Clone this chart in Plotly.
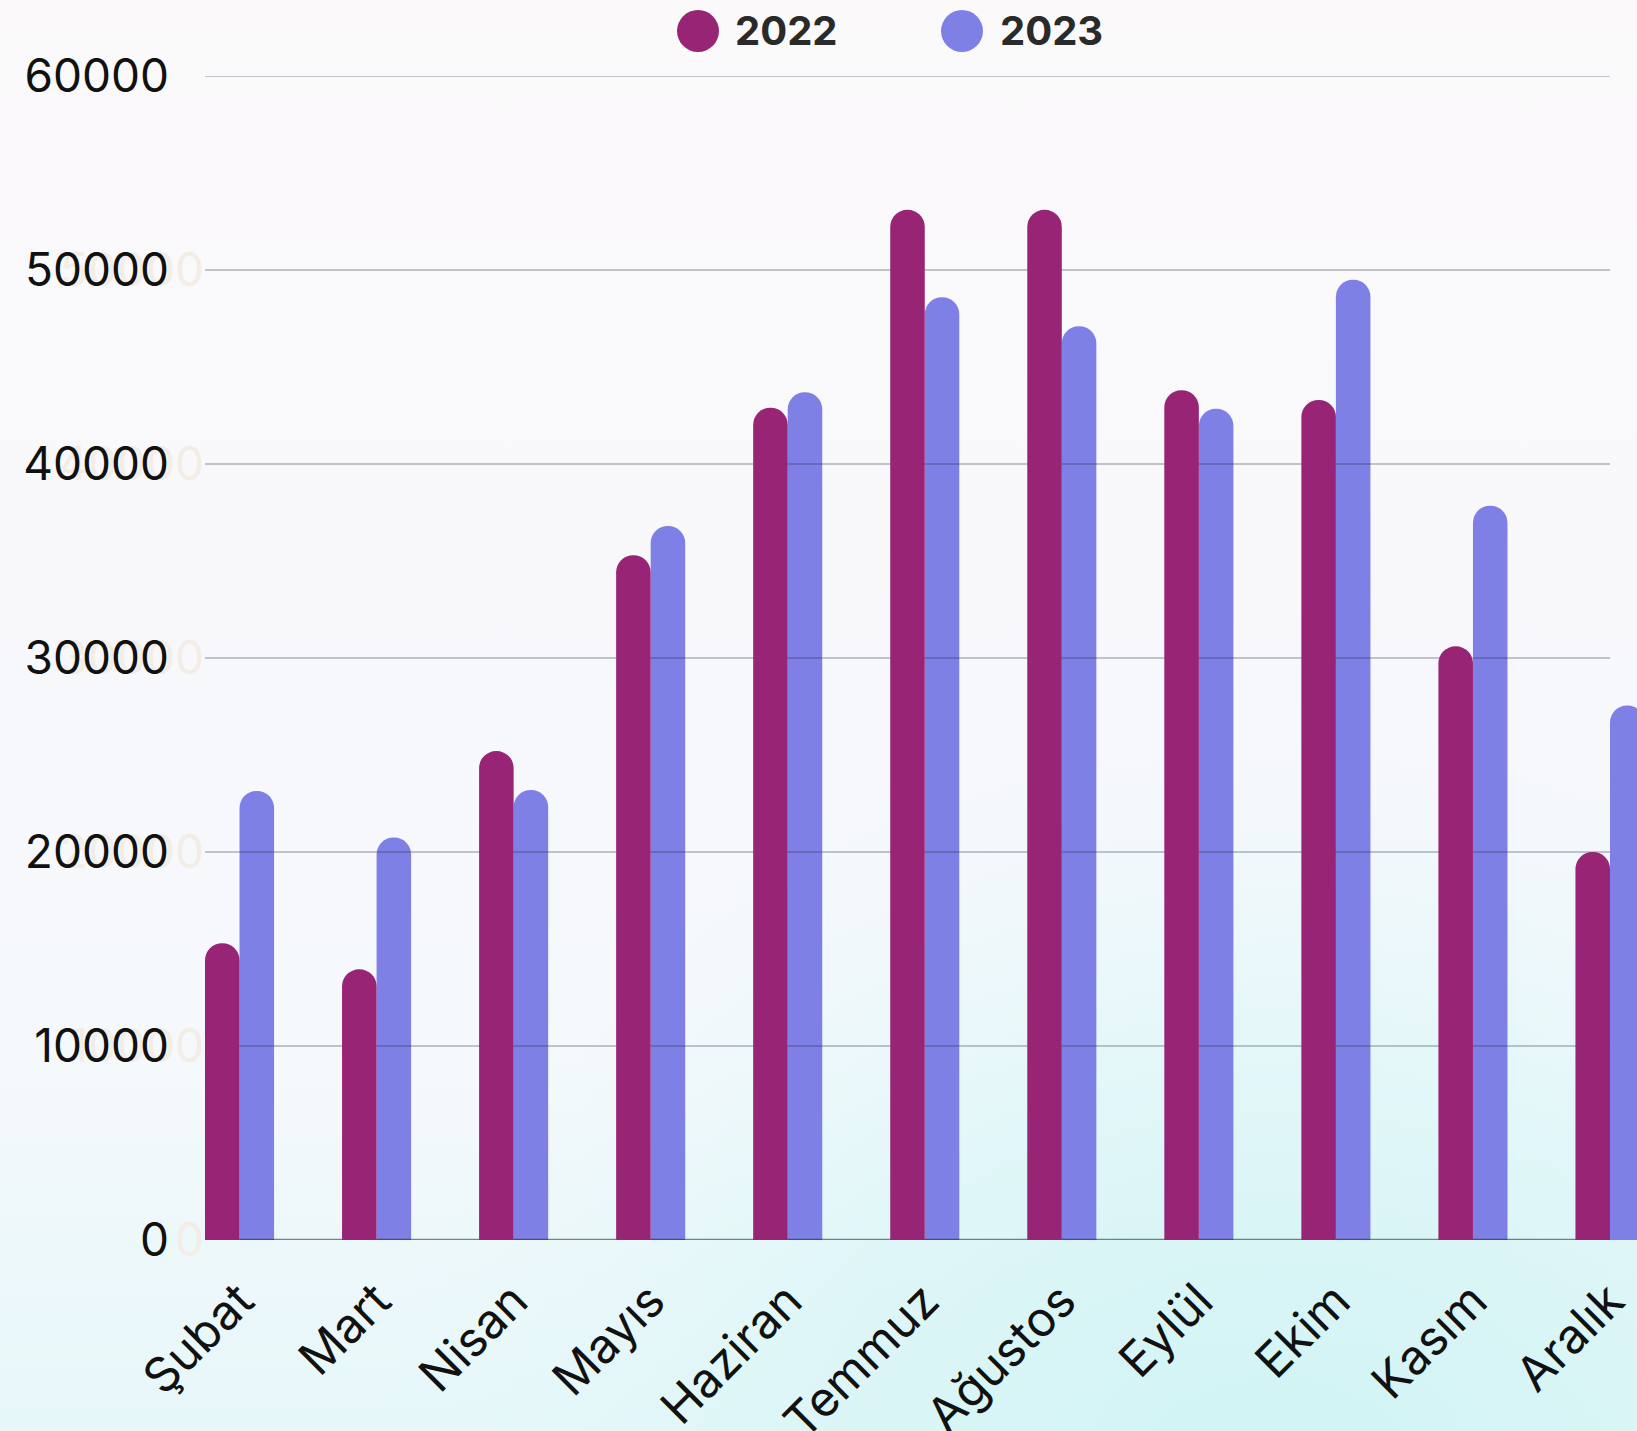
import base64
import plotly.graph_objects as go

# ---------------- data ----------------
months = ["Şubat", "Mart", "Nisan", "Mayıs", "Haziran", "Temmuz",
          "Ağustos", "Eylül", "Ekim", "Kasım", "Aralık"]
values_2022 = [15300, 13950, 25200, 35300, 42900, 53100, 53100, 43800, 43300, 30600, 20000]
values_2023 = [23150, 20750, 23200, 36800, 43700, 48600, 47100, 42850, 49500, 37850, 27550]
series_names = ["2022", "2023"]
y_ticks = [0, 10000, 20000, 30000, 40000, 50000, 60000]

# ---------------- styling ----------------
C2022 = "#982475"
C2023 = "#7f80e6"
W, H = 1637, 1431
ML, MR, MT, MB = 205, 0, 76, 191
BAR_W = 0.252
X_RANGE = [-BAR_W, 10 + 27 / 137.0]
Y_RANGE = [0, 60000]
FONT = "Inter"

xpos = list(range(len(months)))

fig = go.Figure()

# background gradient (svg image)
svg = f"""<svg xmlns='http://www.w3.org/2000/svg' width='{W}' height='{H}' viewBox='0 0 {W} {H}' preserveAspectRatio='none'>
<defs>
<linearGradient id='g' x1='0' y1='0' x2='0' y2='1'>
<stop offset='0' stop-color='#fbf9fa'/>
<stop offset='0.45' stop-color='#f8f8fc'/>
<stop offset='0.74' stop-color='#f5f9fc'/>
<stop offset='1' stop-color='#e6f7f9'/>
</linearGradient>
<radialGradient id='r' cx='0.78' cy='1.05' r='0.55'>
<stop offset='0' stop-color='#cdf3f4' stop-opacity='0.95'/>
<stop offset='0.55' stop-color='#d6f5f6' stop-opacity='0.6'/>
<stop offset='1' stop-color='#e2f7f8' stop-opacity='0'/>
</radialGradient>
</defs>
<rect width='{W}' height='{H}' fill='url(#g)'/>
<rect width='{W}' height='{H}' fill='url(#r)'/>
</svg>"""
svg_uri = "data:image/svg+xml;base64," + base64.b64encode(svg.encode("utf-8")).decode("ascii")

pw = W - ML - MR
ph = H - MT - MB

# 2023 bars (main subplot, under the gridlines)
fig.add_trace(go.Bar(
    x=xpos, y=values_2023, name=series_names[1],
    offset=0, width=BAR_W,
    marker=dict(color=C2023, cornerradius="50%", line=dict(width=0)),
    showlegend=False, xaxis="x", yaxis="y",
))

# gridlines (main subplot, drawn above 2023 bars)
gx, gy = [], []
for v in y_ticks[1:]:
    gx += [X_RANGE[0], len(months) - 1, None]
    gy += [v, v, None]
fig.add_trace(go.Scatter(
    x=gx, y=gy, mode="lines", line=dict(color="rgba(40,40,60,0.26)", width=2),
    hoverinfo="skip", showlegend=False, xaxis="x", yaxis="y",
))
fig.add_trace(go.Scatter(
    x=[X_RANGE[0], len(months) - 1], y=[y_ticks[0], y_ticks[0]], mode="lines",
    line=dict(color="rgba(30,30,40,0.55)", width=2.5),
    hoverinfo="skip", showlegend=False, xaxis="x", yaxis="y",
))

# 2022 bars (overlay subplot, above gridlines)
fig.add_trace(go.Bar(
    x=xpos, y=values_2022, name=series_names[0],
    offset=-BAR_W, width=BAR_W,
    marker=dict(color=C2022, cornerradius="50%", line=dict(width=0)),
    showlegend=False, xaxis="x2", yaxis="y2",
))

fig.update_layout(
    width=W, height=H, autosize=False,
    margin=dict(l=ML, r=MR, t=MT, b=MB, pad=0),
    paper_bgcolor="#f9f9fb", plot_bgcolor="rgba(0,0,0,0)",
    showlegend=False, barmode="overlay",
    font=dict(family=FONT, color="#111111"),
    images=[dict(
        source=svg_uri, xref="paper", yref="paper",
        x=-ML / pw, y=1 + MT / ph, sizex=W / pw, sizey=H / ph,
        sizing="stretch", xanchor="left", yanchor="top", layer="below",
    )],
    xaxis=dict(
        range=X_RANGE, tickvals=xpos, ticktext=months, tickangle=-45,
        showgrid=False, zeroline=False, showline=False, ticks="",
        tickfont=dict(family=FONT, size=48, color="#111111"),
        ticklabelstandoff=22, automargin=False,
    ),
    yaxis=dict(
        range=Y_RANGE, tickvals=y_ticks[:-1], ticktext=[str(v) for v in y_ticks[:-1]],
        showgrid=False, zeroline=False, showline=False, ticks="",
        tickfont=dict(family=FONT, size=46, color="#f3ede6"),
        ticklabelstandoff=0, automargin=False,
    ),
    xaxis2=dict(range=X_RANGE, overlaying="x", visible=False, showgrid=False,
                zeroline=False, automargin=False),
    yaxis2=dict(
        range=Y_RANGE, overlaying="y", side="left", anchor="x2",
        tickvals=y_ticks, ticktext=[str(v) for v in y_ticks],
        showgrid=False, zeroline=False, showline=False, ticks="",
        tickfont=dict(family=FONT, size=46, color="#111111"),
        ticklabelstandoff=35, automargin=False,
    ),
)

# custom legend (circles + bold labels)
legend_items = [(series_names[0], C2022, 698, 733), (series_names[1], C2023, 962, 998)]
leg_y = 1 + (MT - 31) / ph
for name, col, cx_px, tx_px in legend_items:
    fig.add_shape(
        type="circle", xref="paper", yref="paper",
        xsizemode="pixel", ysizemode="pixel",
        xanchor=(cx_px - ML) / pw, yanchor=leg_y,
        x0=-21, x1=21, y0=-21, y1=21,
        fillcolor=col, line=dict(width=0),
    )
    fig.add_annotation(
        text=f"<b>{name}</b>", xref="paper", yref="paper",
        x=(tx_px - ML) / pw, y=leg_y, xanchor="left", yanchor="middle",
        showarrow=False, font=dict(family=FONT, size=40, color="#2a2a2a"),
    )

fig.write_html(
    "out.html",
    config={"displayModeBar": False},
    post_script="document.body.style.margin='0';document.body.style.overflow='hidden';",
)
